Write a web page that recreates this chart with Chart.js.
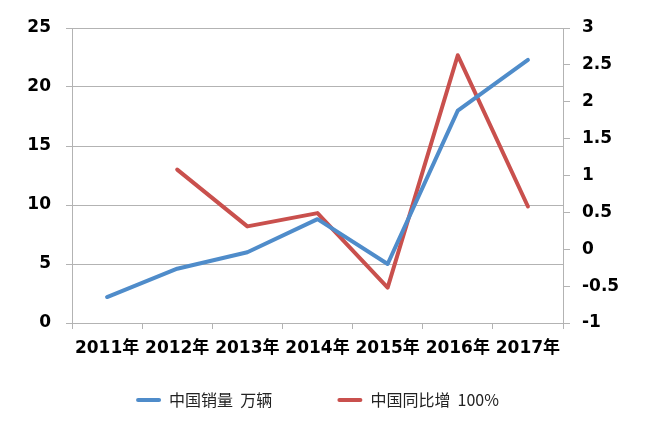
<!DOCTYPE html>
<html><head><meta charset="utf-8">
<script src="https://cdn.jsdelivr.net/npm/chart.js@4"></script>
<style>html,body{margin:0;padding:0;background:#fff}#wrap{width:654px;height:427px;position:relative}</style>
</head><body><div id="wrap"><canvas id="c"></canvas></div>
<script>
const categories = ['2011年','2012年','2013年','2014年','2015年','2016年','2017年'];
const salesValues = [2.2, 4.6, 6.0, 8.8, 5.0, 18.0, 22.3];
const growthValues = [null, 1.08, 0.31, 0.49, -0.52, 2.63, 0.58];
const seriesNames = ['中国销量  万辆', '中国同比增  100%'];

const gridGray = '#b3b3b3';
const tickFont = {family: "'DejaVu Sans', 'Noto Sans CJK SC', sans-serif", weight: 'bold', size: 17};

new Chart(document.getElementById('c'), {
  type: 'line',
  data: {
    labels: categories,
    datasets: [
      {label: seriesNames[0], data: salesValues, yAxisID: 'y', borderColor: '#4f8cca', backgroundColor: '#4f8cca',
       borderWidth: 4, pointRadius: 0, tension: 0, borderCapStyle: 'round', borderJoinStyle: 'round'},
      {label: seriesNames[1], data: growthValues, yAxisID: 'y1', borderColor: '#c9504d', backgroundColor: '#c9504d',
       borderWidth: 4, pointRadius: 0, tension: 0, borderCapStyle: 'round', borderJoinStyle: 'round'}
    ]
  },
  options: {
    responsive: true, maintainAspectRatio: false, animation: false,
    layout: {padding: {top: 28, bottom: 9, left: 0, right: 0}},
    plugins: {
      tooltip: {enabled: false},
      legend: {
        position: 'bottom', fullSize: false,
        labels: {
          boxWidth: 25, boxHeight: 4, padding: 10, color: '#222',
          useBorderRadius: true, borderRadius: 2,
          font: {family: "'Noto Sans CJK SC', sans-serif", size: 16},
          generateLabels(chart) {
            const items = Chart.defaults.plugins.legend.labels.generateLabels(chart);
            items.forEach(it => { it.fillStyle = it.strokeStyle; it.lineWidth = 0; });
            items[0].text += '\u3000\u3000\u3000  ';
            return items;
          }
        }
      }
    },
    scales: {
      x: {
        type: 'category', offset: true,
        grid: {offset: true, drawOnChartArea: false, drawTicks: true, tickLength: 6, color: gridGray},
        border: {display: true, color: gridGray, width: 1},
        ticks: {color: '#000', font: tickFont, padding: 9, autoSkip: false, maxRotation: 0},
        afterFit(s) { s.height = 59; }
      },
      y: {
        position: 'left', min: 0, max: 25,
        grid: {color: gridGray, tickLength: 6, drawTicks: true},
        border: {display: true, color: gridGray, width: 1},
        ticks: {stepSize: 5, color: '#000', font: tickFont, padding: 15, callback: v => String(v)},
        afterFit(s) { s.width = 72; }
      },
      y1: {
        position: 'right', min: -1, max: 3,
        grid: {drawOnChartArea: false, color: gridGray, tickLength: 7, drawTicks: true},
        border: {display: true, color: gridGray, width: 1},
        ticks: {stepSize: 0.5, color: '#000', font: tickFont, padding: 12, callback: v => String(v)},
        afterFit(s) { s.width = 91; }
      }
    }
  }
});
</script></body></html>
